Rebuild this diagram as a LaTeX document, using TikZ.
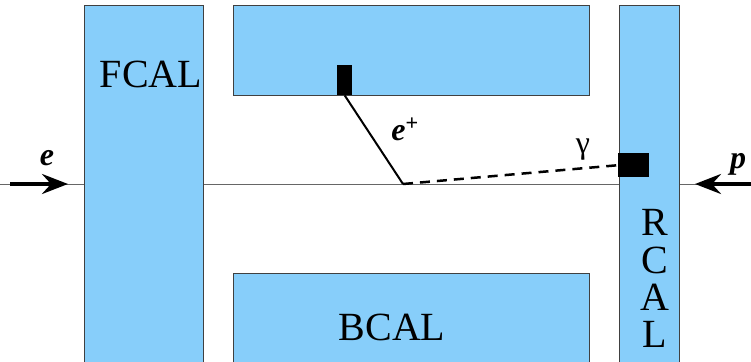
\documentclass[tikz,border=0pt]{standalone}
\usepackage{fontspec}
\newfontfamily\tnr{Liberation Serif}
\usetikzlibrary{arrows.meta}
\definecolor{calblue}{HTML}{87CEFA}
\begin{document}
\begin{tikzpicture}[x=1pt,y=-1pt,
  cal/.style={draw=black!75,line width=0.8pt,fill=calblue,inner sep=0pt,anchor=north west},
  hit/.style={fill=black,draw=none,inner sep=0pt,anchor=north west},
  lbl/.style={font=\tnr\fontsize{40}{40}\selectfont,anchor=base,inner sep=0pt},
  part/.style={font=\tnr\fontsize{32}{32}\selectfont\bfseries\itshape,anchor=base,inner sep=0pt},
  beam/.style={line width=4pt,-{Stealth[length=26pt,width=20pt,inset=9pt]}}]
\useasboundingbox (0,0) rectangle (751,361);
\coordinate (L) at (0,184);
\coordinate (R) at (751,184);
\draw[black!60,line width=0.8pt] (L) -- (R);
\node[cal,minimum width=119pt,minimum height=360pt] (fcal) at (84,5) {};
\node[cal,minimum width=356pt,minimum height=90pt] (btop) at (233,5) {};
\node[cal,minimum width=356pt,minimum height=92pt] (bbot) at (233,273) {};
\node[cal,minimum width=60pt,minimum height=360pt] (rcal) at (619,5) {};
\node[lbl] (tf) at (151,87) {FCAL};
\node[lbl] (tb) at (392,340) {BCAL};
\node[lbl] (r1) at (655,235) {R};
\node[lbl] (r2) at (655,273) {C};
\node[lbl] (r3) at (655,310) {A};
\node[lbl] (r4) at (655,347) {L};
\node[hit,minimum width=15pt,minimum height=30pt] (h1) at (337,65) {};
\node[hit,minimum width=31pt,minimum height=24pt] (h2) at (618,153) {};
\coordinate (v) at (403,184);
\draw[line width=2pt] (h1.south) -- (v);
\draw[line width=2.5pt,dash pattern=on 10pt off 7pt] (v) -- (h2.west);
\coordinate (la) at (10,184);
\coordinate (lt) at (68,184);
\coordinate (ra) at (751,184);
\coordinate (rt) at (695,184);
\draw[beam] (la) -- (lt);
\draw[beam] (ra) -- (rt);
\node[part] (pe) at (47,165) {e};
\node[part] (pp) at (738,168) {p};
\node[part] (pep) at (405,140) {e\textsuperscript{+}};
\node[font=\tnr\fontsize{32}{32}\selectfont,anchor=base,inner sep=0pt] (g) at (583,153) {γ};
\end{tikzpicture}
\end{document}
